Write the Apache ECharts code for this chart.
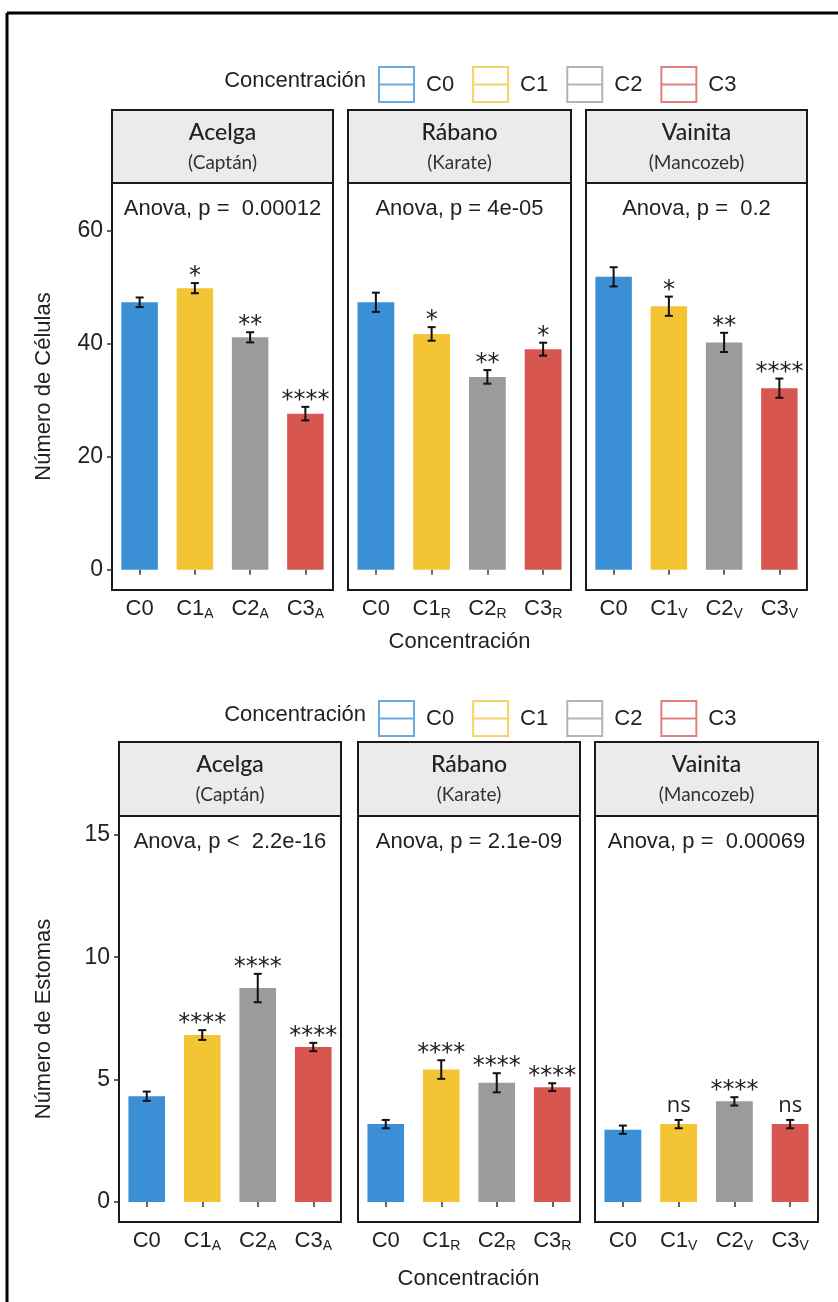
<!DOCTYPE html>
<html>
<head>
<meta charset="utf-8">
<script src="https://cdn.jsdelivr.net/npm/echarts@6/dist/echarts.min.js"></script>
<style>
html,body{margin:0;padding:0;background:#fff;}
#chart{width:838px;height:1302px;}
</style>
</head>
<body>
<div id="chart"></div>
<script>
// ---------------- DATA ----------------
const panelNames = ['Acelga', 'Rábano', 'Vainita'];
const panelPesticides = ['(Captán)', '(Karate)', '(Mancozeb)'];
const subLetters = ['A', 'R', 'V'];
const groups = ['C0', 'C1', 'C2', 'C3'];

const celulasMean = [[47.3, 49.8, 41.1, 27.6], [47.3, 41.7, 34.1, 39.0], [51.8, 46.6, 40.2, 32.1]];
const celulasSE = [[0.85, 0.9, 0.9, 1.2], [1.7, 1.2, 1.2, 1.15], [1.7, 1.7, 1.7, 1.7]];
const celulasSig = [['', '*', '**', '****'], ['', '*', '**', '*'], ['', '*', '**', '****']];
const celulasAnova = ['Anova, p =  0.00012', 'Anova, p = 4e-05', 'Anova, p =  0.2'];
const celulasTicks = [0, 20, 40, 60];

const estomasMean = [[4.32, 6.82, 8.74, 6.33], [3.18, 5.41, 4.87, 4.69], [2.95, 3.18, 4.11, 3.18]];
const estomasSE = [[0.19, 0.2, 0.58, 0.17], [0.17, 0.38, 0.39, 0.16], [0.17, 0.17, 0.17, 0.17]];
const estomasSig = [['', '****', '****', '****'], ['', '****', '****', '****'], ['', 'ns', '****', 'ns']];
const estomasAnova = ['Anova, p <  2.2e-16', 'Anova, p = 2.1e-09', 'Anova, p =  0.00069'];
const estomasTicks = [0, 5, 10, 15];

const legendTitle = 'Concentración';
const yTitleTop = 'Número de Células';
const yTitleBottom = 'Número de Estomas';
const xTitle = 'Concentración';

// ---------------- STYLE / LAYOUT ----------------
const colors = ['#3A8FD5', '#F3C433', '#9B9B9B', '#D7564F'];
const FONT = 'Liberation Sans';
const STRIP_FONT = 'Lato';

const rows = [
  {
    grids: [{left: 112, width: 221}, {left: 348, width: 223}, {left: 586, width: 221}],
    top: 183, height: 407, stripTop: 110,
    yMin: -3.6, yMax: 68.4,
    mean: celulasMean, se: celulasSE, sig: celulasSig, anova: celulasAnova, ticks: celulasTicks,
    yTitle: yTitleTop, legendTop: 61, xTitleGap: 52
  },
  {
    grids: [{left: 119, width: 222}, {left: 358, width: 222}, {left: 595, width: 223}],
    top: 816, height: 406, stripTop: 742,
    yMin: -0.82, yMax: 15.77,
    mean: estomasMean, se: estomasSE, sig: estomasSig, anova: estomasAnova, ticks: estomasTicks,
    yTitle: yTitleBottom, legendTop: 695, xTitleGap: 57
  }
];

const grid = [], xAxis = [], yAxis = [], series = [], graphic = [], legend = [];

function catLabels(p) {
  return groups.map((g, i) => i === 0 ? g : g + '|' + subLetters[p]);
}

rows.forEach((row, r) => {
  row.grids.forEach((g, p) => {
    const gi = grid.length;
    grid.push({
      left: g.left, top: row.top, width: g.width, height: row.height,
      show: true, borderColor: '#1a1a1a', borderWidth: 2, backgroundColor: 'transparent'
    });
    xAxis.push({
      type: 'category', gridIndex: gi, data: catLabels(p),
      axisLine: {show: false},
      axisTick: {show: true, alignWithLabel: true, interval: 0, length: 5, lineStyle: {color: '#333', width: 1.5}},
      axisLabel: {
        margin: 8, interval: 0, hideOverlap: false,
        formatter: function (v) {
          const parts = v.split('|');
          return parts.length > 1 ? '{a|' + parts[0] + '}{s|' + parts[1] + '}' : '{a|' + parts[0] + '}';
        },
        rich: {
          a: {fontFamily: FONT, fontSize: 22, color: '#222'},
          s: {fontFamily: FONT, fontSize: 14, color: '#222', verticalAlign: 'bottom', padding: [0, 0, -1, 0]}
        }
      },
      splitLine: {show: false}
    });
    yAxis.push({
      type: 'value', gridIndex: gi, min: row.yMin, max: row.yMax,
      axisLine: {show: false},
      splitLine: {show: false},
      axisTick: {show: p === 0, length: 5, customValues: row.ticks, lineStyle: {color: '#333', width: 1.5}},
      axisLabel: {show: p === 0, customValues: row.ticks, margin: 9, fontFamily: FONT, fontSize: 23, color: '#222'}
    });
    // bars: one series per concentration so the legend lists C0..C3
    groups.forEach((gname, k) => {
      series.push({
        type: 'bar', name: gname, xAxisIndex: gi, yAxisIndex: gi,
        data: groups.map((_, i) => i === k ? row.mean[p][i] : '-'),
        barWidth: '66%', barGap: '-100%',
        itemStyle: {color: colors[k]},
        silent: true
      });
    });
    // error bars
    const means = row.mean[p], ses = row.se[p], sigs = row.sig[p];
    series.push({
      type: 'custom', xAxisIndex: gi, yAxisIndex: gi, silent: true, z: 5,
      data: means.map((m, i) => [i, m, ses[i]]),
      renderItem: function (params, api) {
        const i = api.value(0), m = api.value(1), s = api.value(2);
        const t = api.coord([i, m + s]);
        const b = api.coord([i, m - s]);
        const hw = 4;
        const st = {stroke: '#111', lineWidth: 2};
        return {
          type: 'group', children: [
            {type: 'line', shape: {x1: t[0], y1: t[1], x2: b[0], y2: b[1]}, style: st},
            {type: 'line', shape: {x1: t[0] - hw, y1: t[1], x2: t[0] + hw, y2: t[1]}, style: st},
            {type: 'line', shape: {x1: b[0] - hw, y1: b[1], x2: b[0] + hw, y2: b[1]}, style: st}
          ]
        };
      }
    });
    // significance labels
    series.push({
      type: 'custom', xAxisIndex: gi, yAxisIndex: gi, silent: true, z: 6,
      data: means.map((m, i) => [i, m + ses[i]]),
      renderItem: function (params, api) {
        const i = api.value(0), top = api.value(1);
        const label = sigs[params.dataIndex];
        if (!label) return null;
        const c = api.coord([i, top]);
        const isNs = label === 'ns';
        return {
          type: 'text',
          x: c[0], y: c[1] - (isNs ? 14 : 6),
          style: {
            text: label, align: 'center', verticalAlign: 'middle',
            fontFamily: isNs ? 'Open Sans' : 'DejaVu Sans',
            fontSize: isNs ? 22 : 24, fill: '#222'
          }
        };
      }
    });
    // strip
    graphic.push({
      type: 'rect', silent: true,
      shape: {x: g.left, y: row.stripTop, width: g.width, height: row.top - row.stripTop},
      style: {fill: '#ebebeb', stroke: '#1a1a1a', lineWidth: 2}
    });
    graphic.push({
      type: 'text', silent: true, x: g.left + g.width / 2, y: row.stripTop + 23,
      style: {text: panelNames[p], align: 'center', verticalAlign: 'middle', fontFamily: STRIP_FONT, fontWeight: 500, fontSize: 23, fill: '#222'}
    });
    graphic.push({
      type: 'text', silent: true, x: g.left + g.width / 2, y: row.stripTop + 53,
      style: {text: panelPesticides[p], align: 'center', verticalAlign: 'middle', fontFamily: STRIP_FONT, fontSize: 19, fill: '#333'}
    });
    // anova text
    graphic.push({
      type: 'text', silent: true, x: g.left + g.width / 2, y: row.top + 26,
      style: {text: row.anova[p], align: 'center', verticalAlign: 'middle', fontFamily: FONT, fontSize: 22, fill: '#222'}
    });
  });

  const first = row.grids[0], last = row.grids[row.grids.length - 1];
  const plotCenterX = (first.left + last.left + last.width) / 2;
  // y title
  graphic.push({
    type: 'text', silent: true, x: 44, y: row.top + row.height / 2, rotation: Math.PI / 2,
    style: {text: row.yTitle, align: 'center', verticalAlign: 'middle', fontFamily: FONT, fontSize: 22, fill: '#222'}
  });
  // x title
  graphic.push({
    type: 'text', silent: true, x: plotCenterX, y: row.top + row.height + row.xTitleGap,
    style: {text: xTitle, align: 'center', verticalAlign: 'middle', fontFamily: FONT, fontSize: 22, fill: '#222'}
  });
  // legend title
  graphic.push({
    type: 'text', silent: true, x: 366, y: row.legendTop + 20,
    style: {text: legendTitle, align: 'right', verticalAlign: 'middle', fontFamily: FONT, fontSize: 22, fill: '#222'}
  });
  legend.push({
    data: groups, left: 373, top: row.legendTop, orient: 'horizontal',
    itemWidth: 37, itemHeight: 37, itemGap: 18,
    icon: 'path://M0,0H37V37H0Z M2,2V17.5H35V2Z M2,19.5V35H35V19.5Z',
    itemStyle: {opacity: 0.75, borderWidth: 0},
    textStyle: {fontFamily: FONT, fontSize: 22, color: '#222', padding: [0, 0, 0, 6]},
    selectedMode: false
  });
});

// outer frame (left and top edges)
graphic.push({type: 'line', silent: true, shape: {x1: 7, y1: 13, x2: 838, y2: 13}, style: {stroke: '#000', lineWidth: 3}});
graphic.push({type: 'line', silent: true, shape: {x1: 7, y1: 13, x2: 7, y2: 1302}, style: {stroke: '#000', lineWidth: 3}});

const chart = echarts.init(document.getElementById('chart'), null, {renderer: 'canvas'});
chart.setOption({
  animation: false,
  backgroundColor: '#fff',
  grid: grid, xAxis: xAxis, yAxis: yAxis, series: series, legend: legend,
  graphic: {elements: graphic}
});
</script>
</body>
</html>
